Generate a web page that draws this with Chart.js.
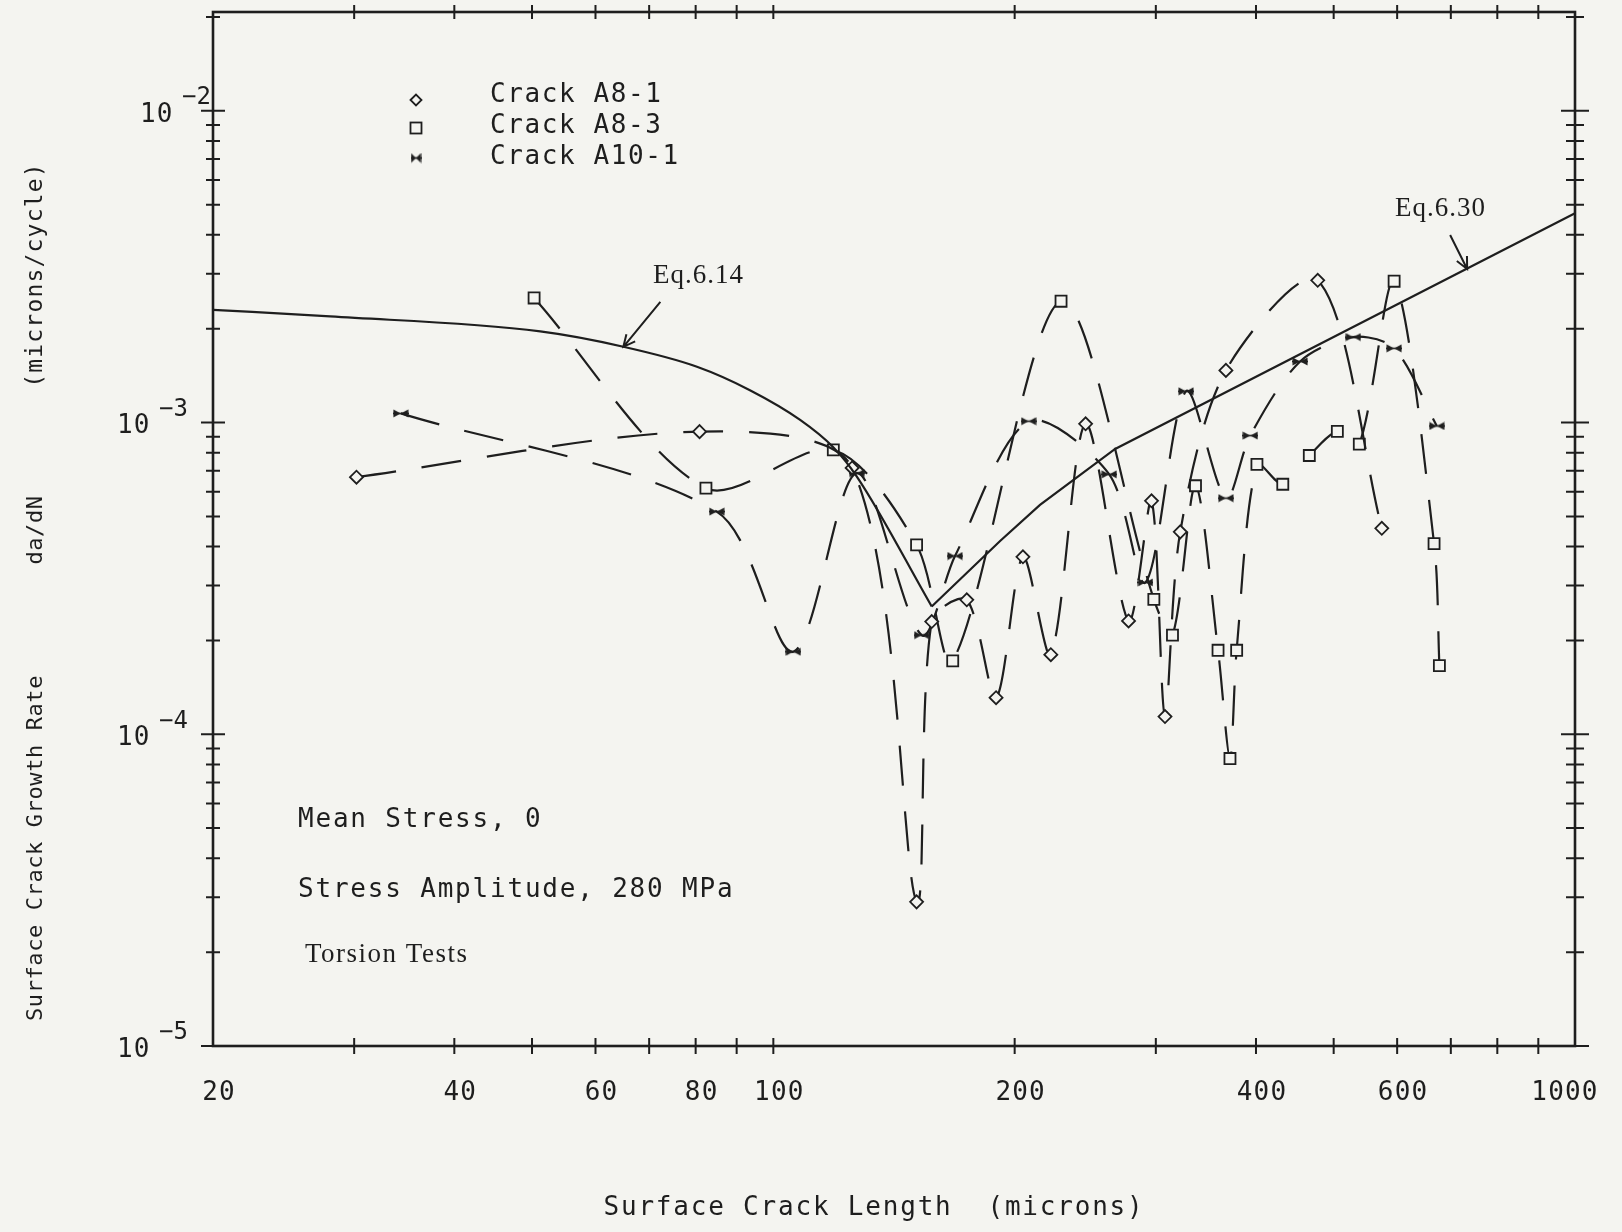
<!DOCTYPE html>
<html>
<head>
<meta charset="utf-8">
<script src="https://cdn.jsdelivr.net/npm/chart.js@4.4.1/dist/chart.umd.min.js"></script>
<style>
  html, body { margin: 0; padding: 0; background: #f4f4f0; }
  #wrap { width: 1622px; height: 1232px; position: relative; }
</style>
</head>
<body>
<div id="wrap"><canvas id="c" width="1622" height="1232"></canvas></div>
<script>
// Surface crack length (microns) and growth rate da/dN (microns/cycle)
const crackA81X = [30.2, 80.9, 125.4, 150.9, 157.6, 174.3, 189.6, 204.8, 221.9, 245.2, 277.4, 296.3, 308.0, 321.8, 366.9, 477.6, 574.1];
const crackA81Y = [6.68e-4, 9.35e-4, 7.15e-4, 2.90e-5, 2.30e-4, 2.70e-4, 1.31e-4, 3.71e-4, 1.80e-4, 9.91e-4, 2.31e-4, 5.61e-4, 1.14e-4, 4.46e-4, 1.47e-3, 2.86e-3, 4.58e-4];

const crackA83X = [50.3, 82.4, 118.8, 150.9, 167.4, 228.5, 298.3, 314.7, 336.2, 358.7, 371.2, 378.4, 401.1, 432.0, 466.2, 505.3, 538.2, 594.8, 667.1, 677.4];
const crackA83Y = [2.51e-3, 6.16e-4, 8.17e-4, 4.05e-4, 1.72e-4, 2.45e-3, 2.71e-4, 2.08e-4, 6.27e-4, 1.86e-4, 8.36e-5, 1.86e-4, 7.34e-4, 6.34e-4, 7.84e-4, 9.37e-4, 8.53e-4, 2.84e-3, 4.09e-4, 1.66e-4];

const crackA101X = [34.3, 85.0, 105.9, 127.1, 153.1, 168.5, 208.2, 262.4, 291.2, 327.2, 366.9, 393.5, 454.0, 529.0, 594.8, 672.4];
const crackA101Y = [1.07e-3, 5.18e-4, 1.84e-4, 6.88e-4, 2.08e-4, 3.73e-4, 1.01e-3, 6.82e-4, 3.07e-4, 1.26e-3, 5.72e-4, 9.08e-4, 1.57e-3, 1.88e-3, 1.73e-3, 9.75e-4];

// Model curves
const eq614X = [20, 28.0, 51.2, 65.0, 80.3, 93.5, 108.0, 118.7, 127.1, 157.6];
const eq614Y = [2.30e-3, 2.19e-3, 1.96e-3, 1.75e-3, 1.51e-3, 1.27e-3, 1.02e-3, 8.35e-4, 6.71e-4, 2.57e-4];
const eq630X = [157.6, 191.8, 215.1, 266.9, 1000];
const eq630Y = [2.57e-4, 4.17e-4, 5.44e-4, 8.23e-4, 4.69e-3];

// Axis ticks
const xLabelTicks = [20, 40, 60, 80, 100, 200, 400, 600, 1000];
const xMinorTicks = [30, 50, 70, 90, 300, 500, 700, 800, 900];
const yDecades = [1e-5, 1e-4, 1e-3, 1e-2];
const yDecadeExp = ['-5', '-4', '-3', '-2'];

const legendNames = ['Crack A8-1', 'Crack A8-3', 'Crack A10-1'];
const notes = ['Mean Stress, 0', 'Stress Amplitude, 280 MPa'];
const noteSerif = 'Torsion Tests';
const eqNames = ['Eq.6.14', 'Eq.6.30'];
const xTitle = 'Surface Crack Length  (microns)';
const yTitleParts = ['Surface Crack Growth Rate', 'da/dN', '(microns/cycle)'];

const ink = '#1e1e1e';
const paper = '#f4f4f0';
const mono = '"DejaVu Sans Mono", monospace';
const serif = '"Liberation Serif", "DejaVu Serif", serif';

const zip = (xs, ys) => xs.map((x, i) => ({ x: x, y: ys[i] }));

// bow-tie marker used for crack A10-1
function bowTie(w, h) {
  const c = document.createElement('canvas');
  c.width = w; c.height = h;
  const g = c.getContext('2d');
  g.fillStyle = ink;
  g.beginPath();
  g.moveTo(0.5, 0.5); g.lineTo(w / 2, h / 2); g.lineTo(0.5, h - 0.5); g.closePath();
  g.moveTo(w - 0.5, 0.5); g.lineTo(w / 2, h / 2); g.lineTo(w - 0.5, h - 0.5); g.closePath();
  g.fill();
  g.strokeStyle = ink; g.lineWidth = 1.6;
  g.beginPath(); g.moveTo(0, h / 2); g.lineTo(w, h / 2); g.stroke();
  return c;
}
const bowMarker = bowTie(16, 9);
const bowLegend = bowTie(11, 11);

const seriesStyle = {
  showLine: true,
  borderColor: ink,
  borderWidth: 2.2,
  borderDash: [40, 26],
  tension: 0.3,
  pointBorderColor: ink,
  pointBackgroundColor: paper,
  pointBorderWidth: 1.8,
  pointHoverRadius: 0,
  clip: false
};
const curveStyle = {
  showLine: true,
  borderColor: ink,
  borderWidth: 2.2,
  tension: 0,
  pointRadius: 0,
  pointHoverRadius: 0
};

function txt(ctx, s, x, y, font, align, base, spacing) {
  ctx.save();
  ctx.font = font;
  ctx.fillStyle = ink;
  ctx.textAlign = align || 'left';
  ctx.textBaseline = base || 'alphabetic';
  ctx.letterSpacing = (spacing || 0) + 'px';
  ctx.fillText(s, x, y);
  ctx.restore();
}

function arrow(ctx, x1, y1, x2, y2) {
  const a = Math.atan2(y2 - y1, x2 - x1);
  const L = 13, s = 0.45;
  ctx.save();
  ctx.strokeStyle = ink; ctx.lineWidth = 2;
  ctx.beginPath();
  ctx.moveTo(x1, y1); ctx.lineTo(x2, y2);
  ctx.moveTo(x2 - L * Math.cos(a - s), y2 - L * Math.sin(a - s));
  ctx.lineTo(x2, y2);
  ctx.lineTo(x2 - L * Math.cos(a + s), y2 - L * Math.sin(a + s));
  ctx.stroke();
  ctx.restore();
}

const framePlugin = {
  id: 'frame',
  beforeDraw(chart) {
    const ctx = chart.ctx;
    ctx.save();
    ctx.fillStyle = paper;
    ctx.fillRect(0, 0, chart.width, chart.height);
    ctx.restore();
  },
  beforeDatasetsDraw(chart) {
    const ctx = chart.ctx, a = chart.chartArea;
    const xs = chart.scales.x, ys = chart.scales.y;
    ctx.save();
    ctx.strokeStyle = ink;
    ctx.lineWidth = 2.6;
    ctx.strokeRect(a.left, a.top, a.right - a.left, a.bottom - a.top);
    ctx.lineWidth = 2;
    ctx.beginPath();
    // crossing ticks on the vertical axes
    yDecades.forEach((d) => {
      for (let m = 1; m <= 9; m++) {
        const v = d * m;
        if (v > ys.max || v < ys.min) continue;
        const py = ys.getPixelForValue(v);
        const len = m === 1 ? 12 : 7;
        ctx.moveTo(a.left - len, py); ctx.lineTo(a.left + len, py);
        ctx.moveTo(a.right - len - 2, py); ctx.lineTo(a.right + len + 2, py);
      }
    });
    // crossing ticks on the horizontal axes
    xLabelTicks.concat(xMinorTicks).forEach((v) => {
      if (v <= xs.min || v >= xs.max) return;
      const px = xs.getPixelForValue(v);
      ctx.moveTo(px, a.bottom - 8); ctx.lineTo(px, a.bottom + 8);
      ctx.moveTo(px, a.top - 7); ctx.lineTo(px, a.top + 7);
    });
    ctx.stroke();
    ctx.restore();
  },
  afterDraw(chart) {
    const ctx = chart.ctx, a = chart.chartArea;
    const xs = chart.scales.x, ys = chart.scales.y;
    const f26 = '26px ' + mono;

    // x tick labels
    xLabelTicks.forEach((v, i) => {
      const shift = i === xLabelTicks.length - 1 ? -10 : 6;
      txt(ctx, String(v), xs.getPixelForValue(v) + shift, a.bottom + 47, f26, 'center', 'middle', 1.2);
    });
    // y tick labels (10 with superscript exponent)
    yDecades.forEach((d, i) => {
      const py = ys.getPixelForValue(d);
      const x0 = i === 3 ? 140 : 117;
      txt(ctx, '10', x0, py + 4, f26, 'left', 'middle', 1.2);
      txt(ctx, '\u2212' + yDecadeExp[i].slice(1), x0 + 42, py - 13, '24px ' + mono, 'left', 'middle', 0);
    });

    // axis titles
    txt(ctx, xTitle, 874, 1208, f26, 'center', 'middle', 1.8);
    ctx.save();
    ctx.translate(36, 0);
    ctx.rotate(-Math.PI / 2);
    txt(ctx, yTitleParts[0], -848, 0, '22px ' + mono, 'center', 'middle', 0.6);
    txt(ctx, yTitleParts[1], -530, 0, '22px ' + mono, 'center', 'middle', 0.6);
    txt(ctx, yTitleParts[2], -275, 0, '23px ' + mono, 'center', 'middle', 1.2);
    ctx.restore();

    // legend
    const lx = 416, rows = [100, 128, 158];
    Chart.helpers.drawPoint(ctx, { pointStyle: 'rectRot', radius: 5.5, borderWidth: 1.8 }, lx, rows[0]);
    ctx.save(); ctx.strokeStyle = ink; ctx.lineWidth = 1.8;
    ctx.strokeRect(lx - 5.5, rows[1] - 5.5, 11, 11); ctx.restore();
    ctx.drawImage(bowLegend, lx - 5.5, rows[2] - 5.5);
    const textRows = [95, 126, 157];
    legendNames.forEach((n, i) => txt(ctx, n, 490, textRows[i], f26, 'left', 'middle', 1.6));

    // test notes
    txt(ctx, notes[0], 298, 827, f26, 'left', 'alphabetic', 1.8);
    txt(ctx, notes[1], 298, 897, f26, 'left', 'alphabetic', 1.8);
    txt(ctx, noteSerif, 305, 962, '27px ' + serif, 'left', 'alphabetic', 1.5);

    // equation labels with arrows to the curves
    txt(ctx, eqNames[0], 653, 283, '27px ' + serif, 'left', 'alphabetic', 1);
    const t1x = xs.getPixelForValue(65.0), t1y = ys.getPixelForValue(1.75e-3);
    arrow(ctx, t1x + 37, t1y - 45, t1x, t1y);
    txt(ctx, eqNames[1], 1395, 216, '27px ' + serif, 'left', 'alphabetic', 1);
    const t2x = xs.getPixelForValue(733.6), t2y = ys.getPixelForValue(3.11e-3);
    arrow(ctx, t2x - 17, t2y - 34, t2x, t2y);
  }
};

new Chart(document.getElementById('c'), {
  type: 'scatter',
  data: {
    datasets: [
      Object.assign({ label: 'Eq.6.14', data: zip(eq614X, eq614Y) }, curveStyle, { cubicInterpolationMode: 'monotone' }),
      Object.assign({ label: 'Eq.6.30', data: zip(eq630X, eq630Y) }, curveStyle),
      Object.assign({ label: legendNames[0], data: zip(crackA81X, crackA81Y), pointStyle: 'rectRot', pointRadius: 6.5 }, seriesStyle),
      Object.assign({ label: legendNames[1], data: zip(crackA83X, crackA83Y), pointStyle: 'rect', pointRadius: 7.8 }, seriesStyle),
      Object.assign({ label: legendNames[2], data: zip(crackA101X, crackA101Y), pointStyle: bowMarker, pointRadius: 6 }, seriesStyle)
    ]
  },
  options: {
    responsive: false,
    animation: false,
    devicePixelRatio: 1,
    layout: { padding: { left: 213, right: 47, top: 12, bottom: 186 } },
    scales: {
      x: { type: 'logarithmic', min: 20, max: 1000, display: false },
      y: { type: 'logarithmic', min: 1e-5, max: 0.02075, display: false }
    },
    plugins: { legend: { display: false }, tooltip: { enabled: false } },
    events: []
  },
  plugins: [framePlugin]
});
</script>
</body>
</html>
